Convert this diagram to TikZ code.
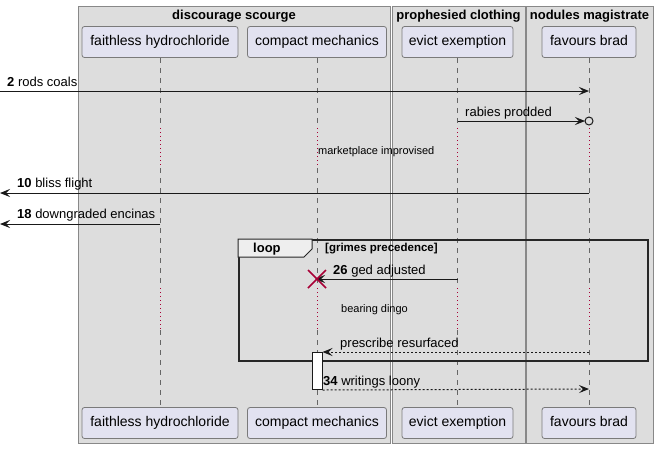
\documentclass[tikz,border=0pt]{standalone}
\usepackage{fontspec}
\setmainfont{Liberation Sans}
\usetikzlibrary{arrows.meta,calc}
\definecolor{grpfill}{HTML}{DDDDDD}
\definecolor{grpline}{HTML}{888888}
\definecolor{pfill}{HTML}{E2E2F0}
\definecolor{pline}{HTML}{7A7A7A}
\definecolor{delayred}{HTML}{A80036}
\definecolor{tabfill}{HTML}{EEEEEE}
\definecolor{lifegray}{HTML}{666666}
\tikzset{
  grp/.style={draw=grpline, fill=grpfill, line width=0.9pt, anchor=north west, inner sep=0},
  grptitle/.style={font=\fontsize{13}{15}\selectfont\bfseries, inner sep=0},
  pbox/.style={draw=pline, fill=pfill, rounded corners=2.5pt, line width=0.8pt, minimum height=31pt, inner sep=0, text height=10pt, text depth=3pt, font=\fontsize{14}{16}\selectfont},
  life/.style={draw=lifegray, line width=0.8pt, dash pattern=on 5pt off 5pt},
  delayline/.style={draw=delayred, line width=1pt, dash pattern=on 1pt off 3pt},
  msg/.style={draw=black!90, line width=1pt, -{Stealth[length=10pt,width=8pt,inset=4pt]}},
  dmsg/.style={msg, dash pattern=on 2pt off 2pt},
  lbl/.style={anchor=west, inner sep=0, font=\fontsize{13}{15}\selectfont},
  dlbl/.style={anchor=west, inner sep=0, font=\fontsize{11}{13}\selectfont},
}
\begin{document}
\begin{tikzpicture}[x=1pt,y=-1pt]
\useasboundingbox (0,0) rectangle (658,448);
\fill[white] (0,0) rectangle (658,448);
% groups
\node[grp, minimum width=312pt, minimum height=437pt] (g1) at (78,6) {};
\node[grp, minimum width=133pt, minimum height=437pt] (g2) at (392,6) {};
\node[grp, minimum width=127pt, minimum height=437pt] (g3) at (526,6) {};
\node[grptitle] (g1t) at (234,16) {discourage scourge};
\node[grptitle] (g2t) at (458.5,16) {prophesied clothing};
\node[grptitle] (g3t) at (589.5,16) {nodules magistrate};
% participants
\node[pbox, minimum width=156pt] (fhT) at (160,42) {faithless hydrochloride};
\node[pbox, minimum width=139pt] (cmT) at (317,42) {compact mechanics};
\node[pbox, minimum width=111pt] (eeT) at (457.5,42) {evict exemption};
\node[pbox, minimum width=94pt] (fbT) at (589,42) {favours brad};
\node[pbox, minimum width=156pt] (fhB) at (160,423) {faithless hydrochloride};
\node[pbox, minimum width=139pt] (cmB) at (317,423) {compact mechanics};
\node[pbox, minimum width=111pt] (eeB) at (457.5,423) {evict exemption};
\node[pbox, minimum width=94pt] (fbB) at (589,423) {favours brad};
% lifelines
\foreach \p in {fh,cm,ee,fb}{
  \draw[life] (\p T.south) -- (\p T.south |- 0,128);
  \draw[delayline] (\p T.south |- 0,128) -- (\p T.south |- 0,168);
  \draw[life] (\p T.south |- 0,168) -- (\p T.south |- 0,288);
  \draw[delayline] (\p T.south |- 0,288) -- (\p T.south |- 0,330);
  \draw[life] (\p T.south |- 0,330) -- (\p B.north);
}
% message 2
\coordinate (m2a) at (0,91);
\coordinate (m2b) at (fbT.south |- 0,91);
\draw[msg] (m2a) -- (m2b);
\node[lbl] (m2l) at (7,81.5) {\textbf{2} rods coals};
% rabies prodded
\coordinate (m4a) at (eeT.south |- 0,121);
\coordinate (m4b) at (fbT.south |- 0,121);
\draw[msg, shorten >=4pt] (m4a) -- (m4b);
\node[circle, draw=black!90, line width=1pt, inner sep=0, minimum size=8pt, fill=grpfill] (m4c) at (m4b) {};
\node[lbl] (m4l) at (465,113.5) {rabies prodded};
% delay text
\node[dlbl] (d1) at (318,152) {marketplace improvised};
% bliss flight
\coordinate (m10a) at (fbT.south |- 0,193);
\coordinate (m10b) at (0,193);
\draw[msg] (m10a) -- (m10b);
\node[lbl] (m10l) at (17,184.5) {\textbf{10} bliss flight};
% downgraded encinas
\coordinate (m18a) at (fhT.south |- 0,224);
\coordinate (m18b) at (0,224);
\draw[msg] (m18a) -- (m18b);
\node[lbl] (m18l) at (17,215.5) {\textbf{18} downgraded encinas};
% loop frame
\node[draw=black!85, line width=1.5pt, minimum width=409pt, minimum height=121pt, anchor=north west, inner sep=0] (loopf) at (238,239) {};
\draw[draw=black!85, line width=1pt, fill=tabfill] (238,239) -- (312,239) -- (312,249) -- (304,257) -- (238,257) -- cycle;
\node[anchor=west, inner sep=0, font=\fontsize{13}{15}\selectfont\bfseries] (looplbl) at (253,249) {loop};
\node[anchor=west, inner sep=0, font=\fontsize{11.5}{13}\selectfont\bfseries] (loopcond) at (325,249) {[grimes precedence]};
% ged adjusted + destroy
\coordinate (m26a) at (eeT.south |- 0,279);
\coordinate (m26b) at (cmT.south |- 0,279);
\draw[msg, shorten >=-2pt] (m26a) -- (m26b);
\draw[draw=delayred, line width=1.6pt] ($(m26b)+(-9,-9)$) -- ($(m26b)+(9,9)$);
\draw[draw=delayred, line width=1.6pt] ($(m26b)+(-9,9)$) -- ($(m26b)+(9,-9)$);
\node[lbl] (m26l) at (333,271) {\textbf{26} ged adjusted};
\node[dlbl] (d2) at (341,310) {bearing dingo};
% activation
\node[draw=black!90, fill=white, line width=1pt, minimum width=10pt, minimum height=37pt, inner sep=0, anchor=north] (act) at (317,352) {};
% prescribe resurfaced
\coordinate (m30a) at (fbT.south |- 0,352);
\coordinate (m30b) at (act.east |- 0,352);
\draw[dmsg] (m30a) -- (m30b);
\node[lbl] (m30l) at (340,344) {prescribe resurfaced};
% writings loony
\coordinate (m34a) at (act.south east);
\coordinate (m34b) at (fbT.south |- 0,389);
\draw[dmsg] (m34a) -- (m34b);
\node[lbl] (m34l) at (323,382) {\textbf{34} writings loony};
\end{tikzpicture}
\end{document}
